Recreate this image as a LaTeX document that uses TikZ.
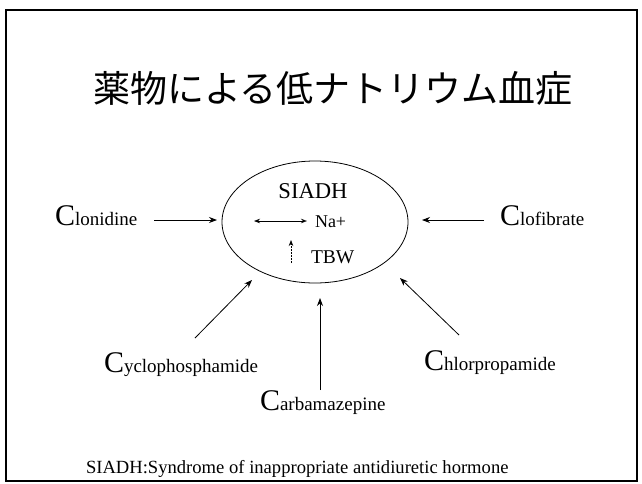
\documentclass[tikz,border=0pt]{standalone}
\usepackage{fontspec}
\setmainfont{Liberation Serif}
\newfontfamily\jpfont{Noto Sans CJK JP}
\usetikzlibrary{arrows.meta,shapes.geometric}
\newcommand{\druglbl}[2]{{\fontsize{30}{30}\selectfont #1}{\fontsize{19}{19}\selectfont #2}}
\tikzset{
  lbl/.style={inner sep=0pt, outer sep=0pt, anchor=base west},
  arr/.style={line width=0.8pt, -{Stealth[length=8pt,width=6pt]}},
  frame/.style={line width=1.2pt}
}
\begin{document}
\begin{tikzpicture}[x=1pt,y=-1pt]
\useasboundingbox (0,0) rectangle (642,483);
\draw[frame] (6,10) rectangle (637,481);
\node[inner sep=0pt, anchor=base] (title) at (333,102) {\jpfont\fontsize{37}{40}\selectfont 薬物による低ナトリウム血症};
\node[draw, line width=0.8pt, ellipse, minimum width=186pt, minimum height=122pt, inner sep=0pt] (sia) at (315,222) {};
\node[lbl, anchor=base] (siadh) at (313,198) {\fontsize{22.6}{24}\selectfont SIADH};
\node[lbl] (na) at (315,227) {\fontsize{18}{20}\selectfont Na+};
\node[lbl] (tbw) at (311,263) {\fontsize{19.5}{20}\selectfont TBW};
\coordinate (naL) at (254,221);
\coordinate (naR) at (307,221);
\draw[line width=0.7pt, {Stealth[length=6pt,width=4.5pt]}-{Stealth[length=6pt,width=4.5pt,open]}] (naL) -- (naR);
\coordinate (tbwB) at (291,263);
\coordinate (tbwT) at (291,240);
\draw[line width=0.7pt, dash pattern=on 2pt off 1pt, -{Stealth[length=6pt,width=4.5pt]}] (tbwB) -- (tbwT);
\node[lbl] (clon) at (55,225) {\druglbl{C}{lonidine}};
\node[lbl] (clof) at (500,225) {\druglbl{C}{lofibrate}};
\node[lbl] (cycl) at (104,372) {\druglbl{C}{yclophosphamide}};
\node[lbl] (carb) at (260,410) {\druglbl{C}{arbamazepine}};
\node[lbl] (chlo) at (424,370) {\druglbl{C}{hlorpropamide}};
\coordinate (clonS) at (154,220);
\coordinate (clonE) at (217,220);
\coordinate (clofS) at (484,220);
\coordinate (clofE) at (422,220);
\coordinate (cyclS) at (195,338);
\coordinate (cyclE) at (252,280);
\coordinate (carbS) at (320,390);
\coordinate (carbE) at (320,298);
\coordinate (chloS) at (459,335);
\coordinate (chloE) at (400,278);
\draw[arr] (clonS) -- (clonE);
\draw[arr] (clofS) -- (clofE);
\draw[arr] (cyclS) -- (cyclE);
\draw[arr] (carbS) -- (carbE);
\draw[arr] (chloS) -- (chloE);
\node[lbl] (foot) at (86,473) {\fontsize{18.6}{20}\selectfont SIADH:Syndrome of inappropriate antidiuretic hormone};
\end{tikzpicture}
\end{document}
